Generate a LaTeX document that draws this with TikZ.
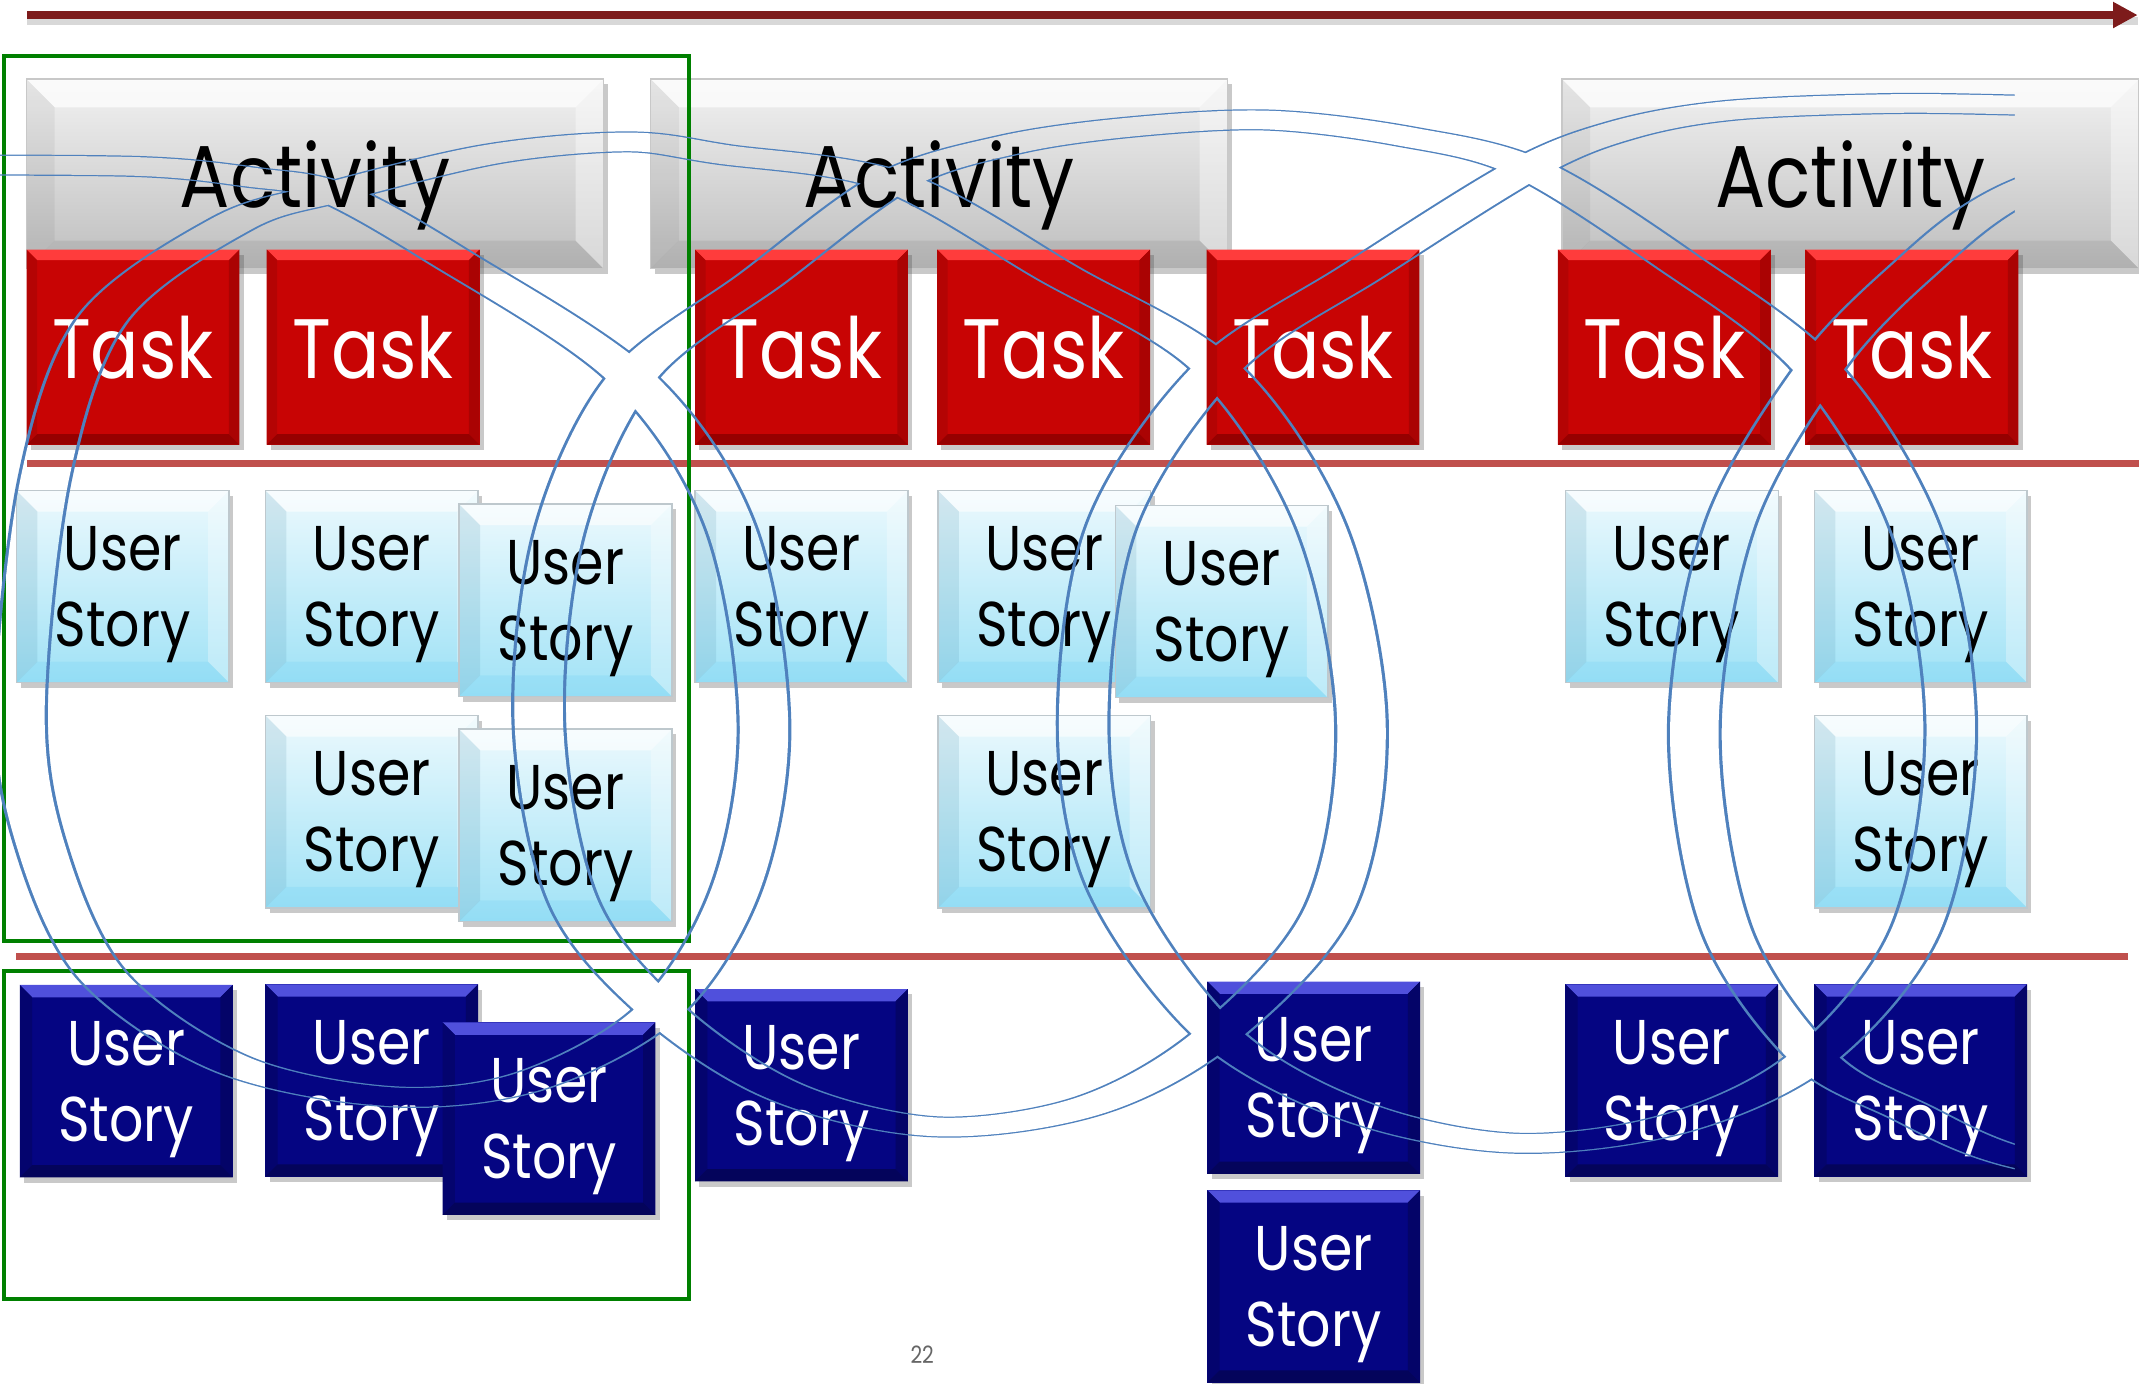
\documentclass[tikz,border=0pt]{standalone}
\usepackage{fontspec}
\setmainfont{Poppins}[FakeStretch=0.85]
\usetikzlibrary{arrows.meta,shadows,fadings}

\newdimen\upx
\upx=0.013642cm

\definecolor{arrowred}{RGB}{125,27,27}
\definecolor{rulered}{RGB}{192,80,77}
\definecolor{framegreen}{RGB}{0,128,0}
\definecolor{actTop}{RGB}{242,242,242}
\definecolor{actBot}{RGB}{190,190,190}
\definecolor{actEdge}{RGB}{200,200,200}
\definecolor{taskRed}{RGB}{200,4,4}
\definecolor{taskHi}{RGB}{255,60,60}
\definecolor{taskLo}{RGB}{150,0,0}
\definecolor{storyTop}{RGB}{236,249,253}
\definecolor{storyBot}{RGB}{160,226,246}
\definecolor{storyEdge}{RGB}{190,200,205}
\definecolor{doneBlue}{RGB}{5,5,130}
\definecolor{doneHi}{RGB}{80,80,220}
\definecolor{coilblue}{RGB}{79,129,189}

\newcommand\actfont{\fontsize{25}{30}\selectfont}
\newcommand\taskfont{\fontsize{24}{28}\selectfont}
\newcommand\storyfont{\fontsize{18}{21.7}\selectfont}

% the coil band: edges opaque, inside cut out again
\begin{tikzfadingfrompicture}[name=coilmask, x=\upx, y=-\upx]
  \useasboundingbox (0,0) rectangle (1568,1014);
  \fill[transparent!100] (0,0) rectangle (1568,1014);
  \begin{scope}[transform canvas={xscale=2.6}]
  \begin{scope}[xscale=1/2.6]
    \path[preaction={draw=transparent!0, line width=6pt}, draw=transparent!100, line width=5.3pt]
      plot[smooth, tension=.55] coordinates {(-80,121) (100,122) (185,130) (244,141) (327,187) (463,277) (535,385) (560,530) (540,650) (484,740) (390,792) (288,804) (170,780) (75,715) (30,620) (15,520) (33,350) (75,234) (170,164) (244,141) (360,113) (460,104) (529,113) (655,133) (775,200) (892,270) (968,385) (998,530) (975,665) (893,758) (800,810) (686,826) (575,800) (484,740) (420,660) (395,530) (410,390) (463,277) (560,203) (655,133) (740,106) (830,93) (930,88) (1030,100) (1120,123) (1227,190) (1333,271) (1405,390) (1430,535) (1405,680) (1329,775) (1230,823) (1111,838) (995,815) (893,758) (815,650) (794,530) (815,385) (892,270) (1000,198) (1120,123) (1190,95) (1267,81) (1380,76) (1477,77) (1650,82)}
      plot[smooth, tension=.55] coordinates {(1620,875) (1477,848) (1400,815) (1329,775) (1265,680) (1242,535) (1268,385) (1333,271) (1400,200) (1477,142) (1620,90)};
  \end{scope}
  \end{scope}
  \fill[transparent!100] (1477,0) rectangle (1568,1014);
\end{tikzfadingfrompicture}

\tikzset{
  bevel/.style n args={5}{path picture={
    \coordinate (pnw) at (path picture bounding box.north west);
    \coordinate (pne) at (path picture bounding box.north east);
    \coordinate (psw) at (path picture bounding box.south west);
    \coordinate (pse) at (path picture bounding box.south east);
    \fill[#2] (pnw) -- (pne) -- ([xshift=-#1,yshift=-#1]pne) -- ([xshift=#1,yshift=-#1]pnw) -- cycle;
    \fill[#3] (pnw) -- ([xshift=#1,yshift=-#1]pnw) -- ([xshift=#1,yshift=#1]psw) -- (psw) -- cycle;
    \fill[#4] (pne) -- ([xshift=-#1,yshift=-#1]pne) -- ([xshift=-#1,yshift=#1]pse) -- (pse) -- cycle;
    \fill[#5] (psw) -- ([xshift=#1,yshift=#1]psw) -- ([xshift=-#1,yshift=#1]pse) -- (pse) -- cycle;
  }},
  card/.style={rectangle, inner sep=0pt, align=center, text depth=0pt,
    minimum width=156\upx, minimum height=141\upx,
    drop shadow={shadow xshift=1.2pt, shadow yshift=-1.5pt, opacity=.3, fill=black!70}},
  activity/.style={card, minimum width=423\upx, minimum height=139\upx,
    top color=actTop, bottom color=actBot, draw=actEdge, line width=.4pt, font=\actfont,
    bevel={8pt}{white,opacity=.7}{black,opacity=.05}{white,opacity=.4}{black,opacity=.07}},
  task/.style={card, minimum height=143\upx, fill=taskRed, text=white, font=\taskfont,
    bevel={3pt}{taskHi}{taskRed!90!black}{taskRed!85!black}{taskLo}},
  story/.style={card, top color=storyTop, bottom color=storyBot, draw=storyEdge, line width=.4pt,
    font=\storyfont,
    bevel={6pt}{white,opacity=.6}{black!40!cyan,opacity=.15}{white,opacity=.3}{cyan,opacity=.08}},
  done/.style={card, fill=doneBlue, text=white, font=\storyfont,
    bevel={3.5pt}{doneHi}{doneBlue!85!black}{doneBlue!80!black}{doneBlue!70!black}},
  timeline/.style={arrowred, line width=2.3pt, -{Triangle[length=7pt,width=7pt]}},
  rule/.style={rulered, line width=2pt},
  frame/.style={framegreen, line width=1.1pt},
}

\begin{document}
\begin{tikzpicture}[x=\upx, y=-\upx]
  \useasboundingbox (0,0) rectangle (1568,1014);

  % time runs to the right
  \coordinate (early) at (20,11);
  \coordinate (late) at (1567,11);
  \draw[line width=2.3pt, black!30, opacity=.5] ([yshift=-1.8pt]early) -- ([yshift=-1.8pt]late);
  \draw[timeline] (early) -- (late);

  % backbone
  \node[activity] (a1) at (231,127.5) {Activity};
  \node[activity] (a2) at (688.5,127.5) {Activity};
  \node[activity] (a3) at (1356.5,127.5) {Activity};

  \node[task] (t1) at (97.5,254.5) {Task};
  \node[task] (t2) at (273.5,254.5) {Task};
  \node[task] (t3) at (587.5,254.5) {Task};
  \node[task] (t4) at (765,254.5) {Task};
  \node[task] (t5) at (962.5,254.5) {Task};
  \node[task] (t6) at (1220,254.5) {Task};
  \node[task] (t7) at (1401.5,254.5) {Task};

  % release lines
  \coordinate (r1w) at (20,340);
  \coordinate (r1e) at (1568,340);
  \coordinate (r2w) at (12,701);
  \coordinate (r2e) at (1560,701);
  \draw[rule] (r1w) -- (r1e);
  \draw[rule] (r2w) -- (r2e);

  % stories of the first release
  \node[story] (s1) at (90,430) {User\\Story};
  \node[story] (s2) at (272.5,430) {User\\Story};
  \node[story] (s3) at (414.5,440) {User\\Story};
  \node[story] (s4) at (587.5,430) {User\\Story};
  \node[story] (s5) at (765.5,430) {User\\Story};
  \node[story] (s6) at (895.5,441) {User\\Story};
  \node[story] (s7) at (1225.5,430) {User\\Story};
  \node[story] (s8) at (1408,430) {User\\Story};
  \node[story] (s9) at (272.5,595) {User\\Story};
  \node[story] (s10) at (414.5,605) {User\\Story};
  \node[story] (s11) at (765.5,595) {User\\Story};
  \node[story] (s12) at (1408,595) {User\\Story};

  % later stories
  \node[done] (d1) at (92.5,792.5) {User\\Story};
  \node[done] (d2) at (272.5,792) {User\\Story};
  \node[done] (d3) at (402.5,820) {User\\Story};
  \node[done] (d4) at (587.5,795.5) {User\\Story};
  \node[done] (d5) at (963,790) {User\\Story};
  \node[done] (d6) at (963,943) {User\\Story};
  \node[done] (d7) at (1225.5,792) {User\\Story};
  \node[done] (d8) at (1408,792) {User\\Story};

  % first slice
  \draw[frame] (3,41) rectangle (505,690);
  \draw[frame] (3,712) rectangle (505,952);

  \node[font=\fontsize{6.8}{8}\selectfont, text=black!60] (page) at (676,993) {22};

  % iteration coil on top
  \fill[coilblue, path fading=coilmask, fit fading=false,
        fading transform={xshift=784\upx, yshift=-507\upx}] (0,0) rectangle (1568,1014);
\end{tikzpicture}
\end{document}
